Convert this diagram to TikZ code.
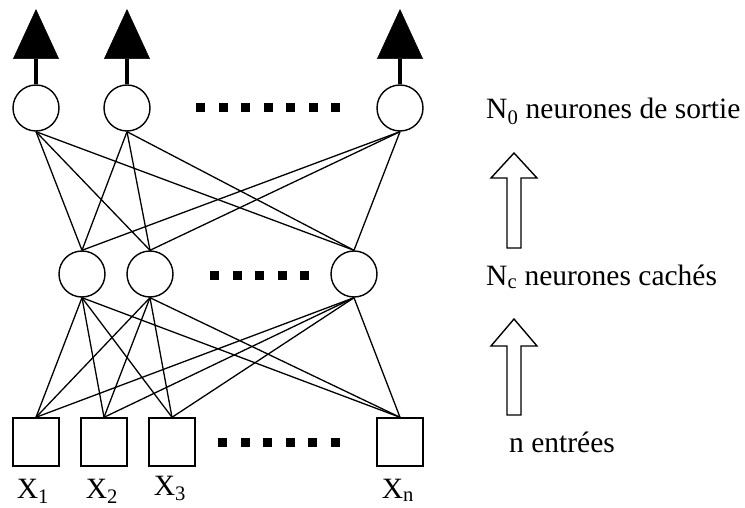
\documentclass[tikz,border=0pt]{standalone}
\usepackage{fontspec}
\setmainfont{Liberation Serif}
\usetikzlibrary{arrows.meta}
\begin{document}
\begin{tikzpicture}[x=1pt,y=-1pt,
  neuron/.style={circle,draw,line width=1.4pt,minimum size=46pt,inner sep=0pt},
  inbox/.style={rectangle,draw,line width=1.4pt,minimum width=46pt,minimum height=48pt,inner sep=0pt},
  link/.style={line width=1.3pt},
  outstem/.style={line width=4pt,-{Triangle[width=46pt,length=50pt,line width=0.5pt]}},
  dotsq/.style={fill=black},
  lbl/.style={font=\fontsize{29.5}{34}\selectfont,inner sep=0pt},
  blockarrow/.style={draw,line width=1.4pt,fill=white,line join=miter}]
\useasboundingbox (0,0) rectangle (745,508);

% output layer
\node[neuron] (o1) at (36,108) {};
\node[neuron] (o2) at (127,108) {};
\node[neuron] (o3) at (400,108) {};
% hidden layer
\node[neuron] (h1) at (82,274) {};
\node[neuron] (h2) at (150,274) {};
\node[neuron] (h3) at (354,274) {};
% input layer
\node[inbox] (i1) at (36,442) {};
\node[inbox] (i2) at (104,442) {};
\node[inbox] (i3) at (172,442) {};
\node[inbox] (i4) at (400,442) {};

% output arrows
\coordinate (t1) at (36,9);
\coordinate (t2) at (127,9);
\coordinate (t3) at (400,9);
\draw[outstem] (o1.north) -- (t1);
\draw[outstem] (o2.north) -- (t2);
\draw[outstem] (o3.north) -- (t3);

% connections
\foreach \o in {o1,o2,o3}
  \foreach \h in {h1,h2,h3}
    \draw[link] (\o.south) -- (\h.north);
\foreach \h in {h1,h2,h3}
  \foreach \i in {i1,i2,i3,i4}
    \draw[link] (\h.south) -- (\i.north);

% dots
\foreach \k in {0,...,6}
  \fill[dotsq] ({196+22.5*\k},103.5) rectangle ++(9,9);
\foreach \k in {0,...,4}
  \fill[dotsq] ({210+22.5*\k},270.5) rectangle ++(9,9);
\foreach \k in {0,...,5}
  \fill[dotsq] ({218+22.6*\k},437.5) rectangle ++(9,9);

% input labels
\node[lbl,anchor=base] (x1) at (33,498) {X\textsubscript{1}};
\node[lbl,anchor=base] (x2) at (102,498) {X\textsubscript{2}};
\node[lbl,anchor=base] (x3) at (170,495) {X\textsubscript{3}};
\node[lbl,anchor=base] (xn) at (398,498) {X\textsubscript{n}};

% right side labels
\node[lbl,anchor=base west] (lo) at (486,119) {N\textsubscript{0} neurones de sortie};
\node[lbl,anchor=base west] (lc) at (486,285) {N\textsubscript{c} neurones cachés};
\node[lbl,anchor=base west] (ln) at (509,452) {n entrées};

% hollow block arrows
\draw[blockarrow] (507,248) -- (507,178) -- (491,178) -- (514,153) -- (537,178) -- (521,178) -- (521,248) -- cycle;
\draw[blockarrow] (507,415) -- (507,346) -- (491,346) -- (514,319) -- (537,346) -- (521,346) -- (521,415) -- cycle;
\end{tikzpicture}
\end{document}
